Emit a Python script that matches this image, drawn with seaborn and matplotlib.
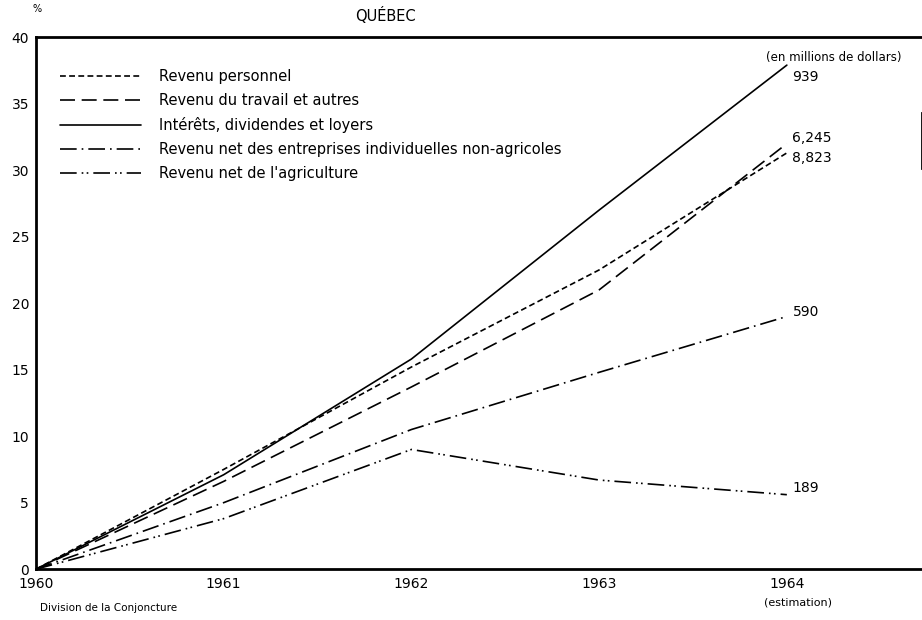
import pandas as pd
import numpy as np
import matplotlib
matplotlib.use('Agg')
import matplotlib.pyplot as plt
import seaborn as sns
from matplotlib.lines import Line2D

# données (variation en % depuis 1960)
annees = [1960, 1961, 1962, 1963, 1964]
revenu_personnel = [0, 7.5, 15.2, 22.5, 31.3]
revenu_travail = [0, 6.6, 13.7, 21.0, 32.0]
interets = [0, 7.1, 15.8, 27.0, 37.9]
entreprises = [0, 5.0, 10.5, 14.8, 19.0]
agriculture = [0, 3.8, 9.0, 6.7, 5.6]

series = [
    'Revenu personnel',
    'Revenu du travail et autres',
    'Intérêts, dividendes et loyers',
    'Revenu net des entreprises individuelles non-agricoles',
    "Revenu net de l'agriculture",
]
etiquettes_fin = ['8,823', '6,245', '939', '590', '189']
yticks = [0, 5, 10, 15, 20, 25, 30, 35, 40]
xticks = [1960, 1961, 1962, 1963, 1964]

valeurs = [revenu_personnel, revenu_travail, interets, entreprises, agriculture]
df = pd.DataFrame({
    'annee': np.tile(annees, len(series)),
    'pct': np.concatenate(valeurs),
    'serie': np.repeat(series, len(annees)),
})

sns.set_style('white')
plt.rcParams['font.family'] = ['DejaVu Sans']
plt.rcParams['text.color'] = 'black'
plt.rcParams['xtick.color'] = 'black'
plt.rcParams['ytick.color'] = 'black'

tirets = {
    series[0]: (3.5, 2),
    series[1]: (9, 4),
    series[2]: '',
    series[3]: (10, 3, 1, 3),
    series[4]: (10, 3, 1, 2, 1, 3),
}

fig = plt.figure(figsize=(9.22, 6.2), dpi=100)
ax = fig.add_axes([0.039, 0.082, 0.961, 0.858])

sns.lineplot(data=df, x='annee', y='pct', hue='serie', style='serie',
             palette=['black'] * 5, dashes=tirets, linewidth=1.2,
             legend=False, ax=ax)

ax.set_xlim(1960, 1964.72)
ax.set_ylim(0, 40)
ax.set_xticks(xticks)
ax.set_xticklabels([str(a) for a in xticks], fontsize=10)
ax.set_yticks(yticks)
ax.set_yticklabels([str(v) for v in yticks], fontsize=10)
ax.tick_params(axis='y', direction='in', length=9, width=1.5, pad=5)
ax.tick_params(axis='x', direction='in', length=12, width=1.2, pad=6)
ax.set_xlabel('')
ax.set_ylabel('')
for s in ['left', 'bottom', 'top', 'right']:
    ax.spines[s].set_linewidth(2)
    ax.spines[s].set_color('black')
# fragment du cadre droit visible dans l'original
ax.spines['right'].set_bounds(30.2, 34.3)

# légende
poignees = []
for nom in series:
    d = tirets[nom]
    ln = Line2D([], [], color='black', linewidth=1.2)
    if d != '':
        ln.set_dashes(d)
    poignees.append(ln)
ax.legend(poignees, series, loc='upper left', bbox_to_anchor=(0.012, 0.965),
          frameon=False, handlelength=5.6, handletextpad=1.2,
          labelspacing=0.62, fontsize=10.5, labelcolor='black')

# étiquettes de fin de courbe
decalages = {'939': -0.9, '6,245': 0.4, '8,823': -0.4, '590': 0.3, '189': 0.5}
for nom, v, lab in zip(series, valeurs, etiquettes_fin):
    ax.text(1964.03, v[-1] + decalages[lab], lab, fontsize=10,
            va='center', ha='left')

ax.text(1964.25, 38.5, '(en millions de dollars)', fontsize=8.5,
        ha='center', va='center')
fig.text(0.418, 0.975, 'QUÉBEC', fontsize=10.5, ha='center', va='center')
fig.text(0.04, 0.985, '%', fontsize=7, ha='center', va='center')
fig.text(0.866, 0.029, '(estimation)', fontsize=8, ha='center', va='center')
fig.text(0.043, 0.02, 'Division de la Conjoncture', fontsize=7.5,
         ha='left', va='center')

fig.savefig('out.png', dpi=100)
